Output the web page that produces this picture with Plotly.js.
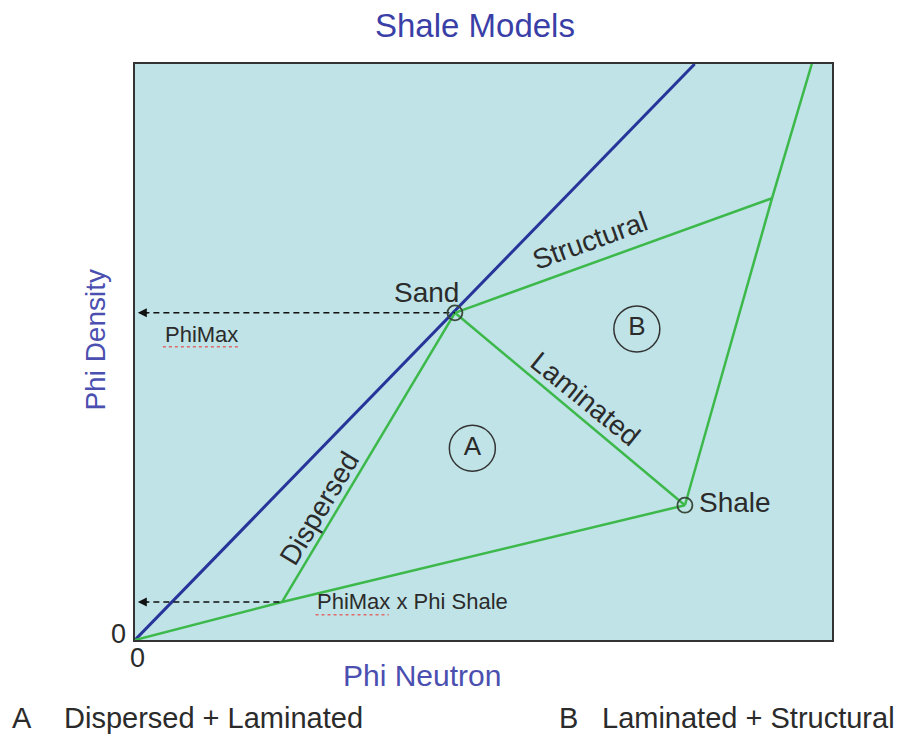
<!DOCTYPE html>
<html>
<head>
<meta charset="utf-8">
<script src="https://cdn.plot.ly/plotly-3.0.1.min.js"></script>
<style>html,body{margin:0;padding:0;background:#fff;}#chart{width:903px;height:738px;}</style>
</head>
<body>
<div id="chart"></div>
<script>
// ---- data (normalised Phi Neutron / Phi Density units, 0..1) ----
var sandPoint = [0.459, 0.568];
var shalePoint = [0.789, 0.234];
var dispersedEnd = [0.211, 0.066];     // PhiMax x Phi Shale
var structuralEnd = [0.914, 0.767];
var cleanLineX = [0, 0.803];
var cleanLineY = [0, 1.0];
var shaleLineX = [0.789, 0.914, 0.971];
var shaleLineY = [0.234, 0.767, 1.0];
var regionLabels = ['A', 'B'];
var regionX = [0.484, 0.720];
var regionY = [0.333, 0.540];

var FONT = 'Arial, "Liberation Sans", sans-serif';
var GREEN = '#3cb94a';
var BLUE = '#27359a';
var TXT = '#2b2b2b';

var traces = [
  {x: cleanLineX, y: cleanLineY, mode: 'lines', line: {color: BLUE, width: 3}, hoverinfo: 'skip'},
  {x: [0, dispersedEnd[0], shalePoint[0]], y: [0, dispersedEnd[1], shalePoint[1]], mode: 'lines', line: {color: GREEN, width: 2.5}},
  {x: [dispersedEnd[0], sandPoint[0]], y: [dispersedEnd[1], sandPoint[1]], mode: 'lines', line: {color: GREEN, width: 2.5}},
  {x: [sandPoint[0], shalePoint[0]], y: [sandPoint[1], shalePoint[1]], mode: 'lines', line: {color: GREEN, width: 2.5}},
  {x: [sandPoint[0], structuralEnd[0]], y: [sandPoint[1], structuralEnd[1]], mode: 'lines', line: {color: GREEN, width: 2.5}},
  {x: shaleLineX, y: shaleLineY, mode: 'lines', line: {color: GREEN, width: 2.5}},
  {x: [0.012, sandPoint[0]], y: [sandPoint[1], sandPoint[1]], mode: 'lines', line: {color: '#111', width: 1.5, dash: '6px,4px'}},
  {x: [0.012, dispersedEnd[0]], y: [dispersedEnd[1], dispersedEnd[1]], mode: 'lines', line: {color: '#111', width: 1.5, dash: '6px,4px'}},
  {x: [sandPoint[0], shalePoint[0]], y: [sandPoint[1], shalePoint[1]], mode: 'markers',
   marker: {symbol: 'circle-open', size: 15, color: '#3a4a3a', line: {width: 1.8, color: '#3a4a3a'}}},
  {x: regionX, y: regionY, mode: 'markers+text', text: regionLabels, textposition: 'middle center',
   textfont: {family: FONT, size: 26, color: TXT},
   marker: {symbol: 'circle-open', size: 46, color: '#333', line: {width: 1.5, color: '#333'}}}
];

function lab(text, x, y, size, angle, extra) {
  var a = {text: text, x: x, y: y, xref: 'x', yref: 'y', showarrow: false,
           xanchor: 'center', yanchor: 'middle',
           font: {family: FONT, size: size, color: TXT}, textangle: angle || 0};
  if (extra) for (var k in extra) a[k] = extra[k];
  return a;
}
function plab(text, x, y, size, color, extra) {
  var a = {text: text, x: x, y: y, xref: 'paper', yref: 'paper', showarrow: false,
           xanchor: 'center', yanchor: 'middle',
           font: {family: FONT, size: size, color: color}};
  if (extra) for (var k in extra) a[k] = extra[k];
  return a;
}

var annotations = [
  lab('Sand', 0.418, 0.604, 28),
  lab('Shale', 0.806, 0.238, 28, 0, {xanchor: 'left'}),
  lab('Structural', 0.653, 0.694, 28, -20),
  lab('Laminated', 0.647, 0.418, 28, 39),
  lab('Dispersed', 0.264, 0.229, 28, -59),
  lab('PhiMax', 0.095, 0.531, 22),
  lab('PhiMax x Phi Shale', 0.258, 0.066, 22, 0, {xanchor: 'left'}),
  {x: 0.004, y: sandPoint[1], ax: 0.02, ay: sandPoint[1], xref: 'x', yref: 'y', axref: 'x', ayref: 'y',
   text: '', showarrow: true, arrowhead: 2, arrowsize: 1.2, arrowwidth: 1.5, arrowcolor: '#111'},
  {x: 0.004, y: dispersedEnd[1], ax: 0.02, ay: dispersedEnd[1], xref: 'x', yref: 'y', axref: 'x', ayref: 'y',
   text: '', showarrow: true, arrowhead: 2, arrowsize: 1.2, arrowwidth: 1.5, arrowcolor: '#111'},
  plab('Phi Neutron', 0.412, -0.061, 30, '#4a4fb0'),
  plab('Phi Density', -0.057, 0.522, 28, '#4a4fb0', {textangle: -90}),
  plab('0', -0.024, 0.011, 27, TXT),
  plab('0', 0.003, -0.031, 27, TXT),
  plab('A', -0.179, -0.135, 29, TXT, {xanchor: 'left'}),
  plab('Dispersed + Laminated', -0.105, -0.135, 29, TXT, {xanchor: 'left'}),
  plab('B', 0.605, -0.135, 29, TXT, {xanchor: 'left'}),
  plab('Laminated + Structural', 0.667, -0.135, 29, TXT, {xanchor: 'left'})
];

var shapes = [
  {type: 'line', xref: 'x', yref: 'y', x0: 0.040, x1: 0.150, y0: 0.509, y1: 0.509,
   line: {color: '#e06a6a', width: 1.5, dash: 'dot'}},
  {type: 'line', xref: 'x', yref: 'y', x0: 0.259, x1: 0.364, y0: 0.044, y1: 0.044,
   line: {color: '#e06a6a', width: 1.5, dash: 'dot'}}
];

var axisCommon = {range: [0, 1], showgrid: false, zeroline: false, showticklabels: false, ticks: '',
  showline: true, mirror: true, linecolor: '#333', linewidth: 2, fixedrange: true};

var layout = {
  width: 903, height: 738,
  margin: {l: 135, r: 71, t: 64, b: 98},
  paper_bgcolor: '#ffffff',
  plot_bgcolor: '#bfe3e7',
  showlegend: false,
  title: {text: 'Shale Models', x: 0.526, xref: 'container', xanchor: 'center',
          y: 0.966, yref: 'container', yanchor: 'middle',
          font: {family: FONT, size: 33, color: '#3a3fa8'}},
  xaxis: axisCommon,
  yaxis: axisCommon,
  annotations: annotations,
  shapes: shapes
};

Plotly.newPlot('chart', traces, layout, {displayModeBar: false, staticPlot: true});
</script>
</body>
</html>
